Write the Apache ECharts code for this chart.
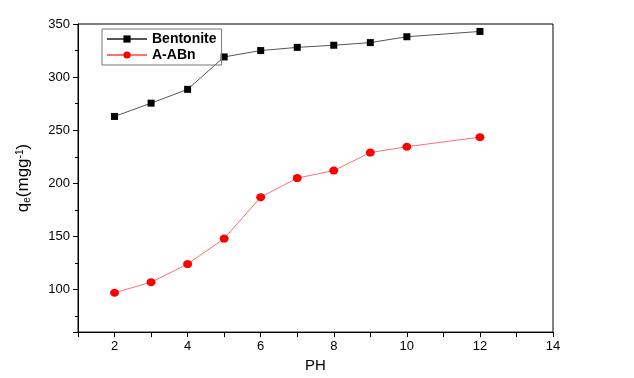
<!DOCTYPE html>
<html>
<head>
<meta charset="utf-8">
<script src="https://cdn.jsdelivr.net/npm/echarts@6/dist/echarts.min.js"></script>
<style>
  html, body { margin: 0; padding: 0; background: #fff; }
  #chart { width: 634px; height: 378px; }
</style>
</head>
<body>
<div id="chart"></div>
<script>
const ph = [2, 3, 4, 5, 6, 7, 8, 9, 10, 12]
const bentonite = [263, 275.5, 288.5, 319, 325, 328, 330, 332.5, 338, 343]
const aabn = [97, 107, 124, 148, 187, 205, 212, 229, 234.5, 243.5]

const font = 'Liberation Sans, Arial, sans-serif'

const chart = echarts.init(document.getElementById('chart'))

chart.setOption({
  animation: false,
  grid: {
    left: 78,
    top: 24,
    right: 81,
    bottom: 44,
    show: true,
    borderColor: '#000',
    borderWidth: 1
  },
  legend: {
    left: 102,
    top: 29,
    orient: 'vertical',
    itemWidth: 40,
    itemHeight: 9,
    itemGap: 2,
    padding: [3, 5, 3, 4],
    borderColor: '#777',
    borderWidth: 1,
    textStyle: { color: '#000', fontFamily: font, fontSize: 14, fontWeight: 'bold' },
    data: ['Bentonite', 'A-ABn']
  },
  xAxis: {
    type: 'value',
    min: 1,
    max: 14,
    interval: 1,
    axisLine: { show: true, lineStyle: { color: '#000', width: 1 } },
    axisTick: { show: true, length: 5, lineStyle: { color: '#000' } },
    splitLine: { show: false },
    axisLabel: {
      color: '#000', fontFamily: font, fontSize: 13,
      formatter: v => (v % 2 === 0 ? String(v) : '')
    },
    name: 'PH',
    nameLocation: 'middle',
    nameGap: 24,
    nameTextStyle: { color: '#000', fontFamily: font, fontSize: 15 }
  },
  yAxis: {
    type: 'value',
    min: 60,
    max: 350,
    splitNumber: 6,
    axisLine: { show: true, lineStyle: { color: '#000', width: 1 } },
    axisTick: { show: true, length: 5, lineStyle: { color: '#000' } },
    minorTick: { show: true, splitNumber: 2, length: 3, lineStyle: { color: '#000' } },
    splitLine: { show: false },
    axisLabel: {
      color: '#000', fontFamily: font, fontSize: 13,
      formatter: v => (v % 50 === 0 ? String(v) : '')
    },
    name: '{a|q}{s|e}{a|(mgg}{p|-1}{a|)}',
    nameLocation: 'middle',
    nameRotate: 90,
    nameGap: 46,
    nameTextStyle: {
      rich: {
        a: { fontFamily: font, fontSize: 17, color: '#000' },
        s: { fontFamily: font, fontSize: 10, color: '#000', verticalAlign: 'bottom', padding: [7, 0, 0, 0] },
        p: { fontFamily: font, fontSize: 10, color: '#000', verticalAlign: 'top', padding: [0, 0, 7, 0] }
      }
    }
  },
  series: [
    {
      name: 'Bentonite',
      type: 'line',
      data: ph.map((x, i) => [x, bentonite[i]]),
      symbol: 'rect',
      symbolSize: 7,
      itemStyle: { color: '#000' },
      lineStyle: { color: '#555', width: 1 }
    },
    {
      name: 'A-ABn',
      type: 'line',
      data: ph.map((x, i) => [x, aabn[i]]),
      symbol: 'circle',
      symbolSize: [9, 8],
      itemStyle: { color: '#ff0000' },
      lineStyle: { color: '#ff7070', width: 1 }
    }
  ]
})
</script>
</body>
</html>
